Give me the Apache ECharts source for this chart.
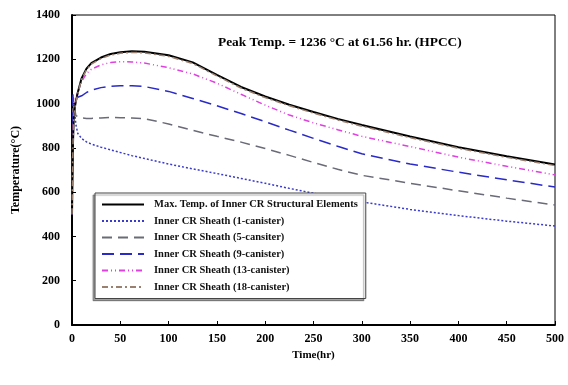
<!DOCTYPE html>
<html><head><meta charset="utf-8">
<script src="https://cdn.jsdelivr.net/npm/echarts@6/dist/echarts.min.js"></script>
<style>html,body{margin:0;padding:0;background:#fff}#c{width:568px;height:385px}</style>
</head><body><div id="c"></div>
<script>
const timeHr = [0, 1, 2, 4, 6, 10, 15, 20, 30, 40, 50, 62, 75, 100, 125, 150, 175, 200, 225, 250, 275, 300, 350, 400, 450, 500];
const maxStruct = [500, 820, 960, 1010, 1050, 1115, 1158, 1183, 1208, 1224, 1232, 1236, 1234, 1218, 1186, 1130, 1075, 1032, 995, 962, 931, 903, 851, 803, 762, 725];
const sheath1 = [500, 900, 1000, 905, 865, 842, 827, 817, 803, 791, 779, 765, 752, 727, 705, 684, 662, 640, 617, 595, 574, 556, 522, 494, 469, 447];
const sheath5 = [500, 1030, 1000, 945, 936, 935, 933, 933, 935, 937, 936, 935, 932, 908, 879, 852, 826, 797, 766, 734, 703, 676, 640, 606, 573, 542];
const sheath9 = [500, 1040, 1040, 1025, 1022, 1035, 1050, 1060, 1072, 1078, 1080, 1080, 1077, 1055, 1023, 990, 955, 918, 880, 843, 807, 773, 727, 690, 656, 623];
const sheath13 = [500, 900, 1000, 1030, 1050, 1100, 1135, 1155, 1175, 1185, 1189, 1188, 1183, 1162, 1134, 1092, 1042, 993, 948, 913, 882, 852, 806, 758, 717, 678];
const sheath18 = [500, 815, 955, 1005, 1045, 1110, 1153, 1178, 1203, 1219, 1227, 1231, 1229, 1213, 1181, 1125, 1070, 1027, 990, 957, 926, 898, 846, 798, 757, 720];
const seriesNames = ['Max. Temp. of Inner CR Structural Elements', 'Inner CR Sheath (1-canister)', 'Inner CR Sheath (5-cansiter)', 'Inner CR Sheath (9-canister)', 'Inner CR Sheath (13-canister)', 'Inner CR Sheath (18-canister)'];

const pair = v => timeHr.map((t, i) => [t, v[i]]);
const F = '"Liberation Serif", "DejaVu Serif", serif';
const mk = (name, data, color, width, type) => ({
  name, type: 'line', data: pair(data), symbol: 'none', smooth: false,
  lineStyle: { color, width, type }, itemStyle: { color }
});
const chart = echarts.init(document.getElementById('c'));
chart.setOption({
  animation: false,
  grid: { left: 72, right: 13, top: 15, bottom: 60, show: true, borderColor: '#000', borderWidth: 1 },
  xAxis: {
    type: 'value', min: 0, max: 500, interval: 50,
    name: 'Time(hr)', nameLocation: 'middle', nameGap: 24,
    nameTextStyle: { fontFamily: F, fontWeight: 'bold', fontSize: 11, color: '#000' },
    axisLine: { lineStyle: { color: '#000', width: 2 } },
    axisTick: { inside: true, length: 4, lineStyle: { color: '#000' } },
    axisLabel: { fontFamily: F, fontWeight: 'bold', fontSize: 12, color: '#000', margin: 8, formatter: v => String(v) },
    splitLine: { show: false }
  },
  yAxis: {
    type: 'value', min: 0, max: 1400, interval: 200,
    name: 'Temperature(°C)', nameLocation: 'middle', nameGap: 50,
    nameTextStyle: { fontFamily: F, fontWeight: 'bold', fontSize: 12, color: '#000' },
    axisLine: { show: true, lineStyle: { color: '#000', width: 2 } },
    axisTick: { show: true, inside: true, length: 4, lineStyle: { color: '#000' } },
    axisLabel: { fontFamily: F, fontWeight: 'bold', fontSize: 12, color: '#000', margin: 12, formatter: v => String(v) },
    splitLine: { show: false }
  },
  legend: {
    orient: 'vertical', left: 95, top: 193, width: 260,
    padding: [6, 8, 6, 6], itemGap: 5.5, itemWidth: 42, itemHeight: 12,
    backgroundColor: '#fff', borderColor: '#444', borderWidth: 1,
    shadowColor: 'rgba(0,0,0,0.35)', shadowOffsetX: -2, shadowOffsetY: 2, shadowBlur: 1,
    itemStyle: { opacity: 0 },
    textStyle: { fontFamily: F, fontWeight: 'bold', fontSize: 10.5, color: '#111', padding: [0, 0, 0, 5] },
    data: seriesNames
  },
  graphic: [{
    type: 'text', left: 218, top: 36,
    style: { text: 'Peak Temp. = 1236 °C at 61.56 hr. (HPCC)', font: 'bold 13.4px ' + F, fill: '#000' }
  }],
  series: [
    mk(seriesNames[1], sheath1, '#3a3ad0', 1.5, [2, 2]),
    mk(seriesNames[2], sheath5, '#6a6a78', 1.5, [10, 6]),
    mk(seriesNames[3], sheath9, '#2a2ac8', 1.5, [12, 6]),
    mk(seriesNames[4], sheath13, '#e040e0', 1.5, [6, 3, 1, 3, 1, 3]),
    mk(seriesNames[0], maxStruct, '#000', 2, 'solid'),
    mk(seriesNames[5], sheath18, '#9a8070', 1.5, [6, 3, 2, 3])
  ]
});
</script></body></html>
